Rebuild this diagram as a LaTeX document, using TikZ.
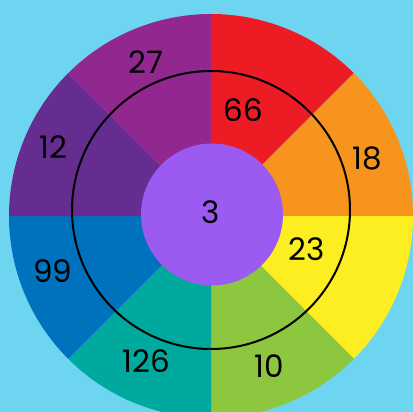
\documentclass[tikz,border=0pt]{standalone}
\usepackage{fontspec}
\setmainfont{Poppins}
\usepackage{xcolor}
\definecolor{sky}{RGB}{109,213,240}
\definecolor{segred}{RGB}{237,28,36}
\definecolor{segorange}{RGB}{247,148,30}
\definecolor{segyellow}{RGB}{252,238,33}
\definecolor{seggreen}{RGB}{141,198,63}
\definecolor{segteal}{RGB}{0,169,157}
\definecolor{segblue}{RGB}{0,113,188}
\definecolor{segpurple}{RGB}{102,45,145}
\definecolor{segplum}{RGB}{146,39,143}
\definecolor{hub}{RGB}{155,90,240}
\usetikzlibrary{positioning}
\tikzset{
    value/.style={font=\fontsize{31}{31}\selectfont, text=black, inner sep=0pt}
}

\begin{document}
\begin{tikzpicture}[x=1pt, y=-1pt]
        \useasboundingbox (0, 0) rectangle (413, 412);
        \clip (0, 0) rectangle (413, 412);
        \fill[sky] (0, 0) rectangle (413, 412);
        % eight wedges of the wheel
        \foreach \col [count=\i] in {segred, segorange, segyellow, seggreen, segteal, segblue, segpurple, segplum} {
            \fill[\col] (211, 216) -- ++({-90 + 45*(\i-1)}:202) arc[start angle={-90 + 45*(\i-1)}, end angle={-45 + 45*(\i-1)}, radius=202] -- cycle;
        }
        \draw[black, line width=2pt] (211, 210) circle[radius=139];
        \fill[hub] (212, 214.5) circle[radius=71];
        \node[value] (v66) at (243, 110) {66};
        \node[value] (v18) at (367, 158) {18};
        \node[value] (v23) at (307, 249) {23};
        \node[value] (v10) at (269, 366) {10};
        \node[value] (v126) at (146, 361) {126};
        \node[value] (v99) at (53, 271) {99};
        \node[value] (v12) at (53, 147) {12};
        \node[value] (v27) at (146, 62) {27};
        \node[value] (v3) at (211, 212) {3};
    \end{tikzpicture}
\end{document}
